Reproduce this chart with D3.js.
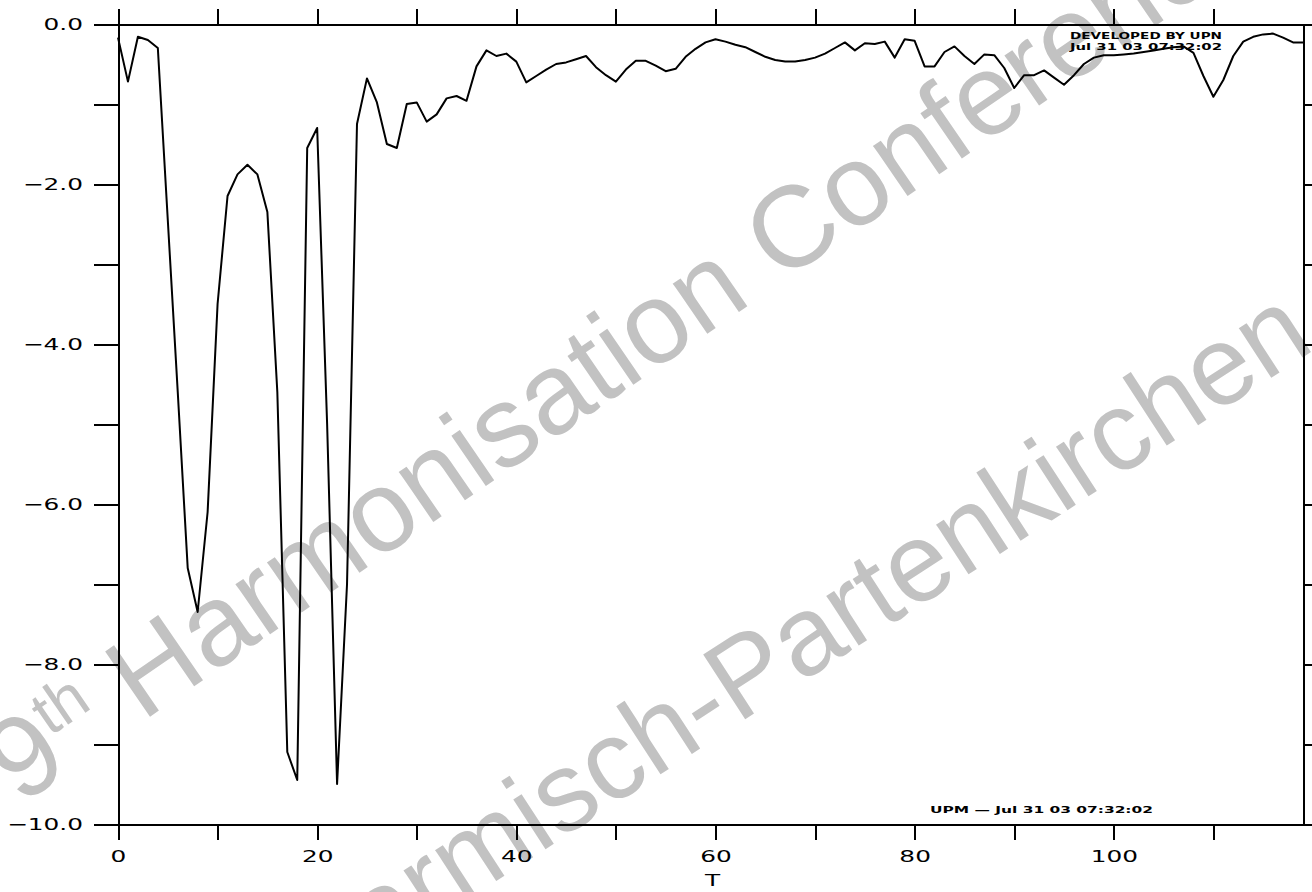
<!DOCTYPE html>
<html>
<head>
<meta charset="utf-8">
<script src="https://cdn.jsdelivr.net/npm/d3@7"></script>
<style>
  body { margin: 0; background: #fff; }
  svg { display: block; }
</style>
</head>
<body>
<svg id="chart" width="1312" height="892"></svg>
<script>
// Series sampled at T = 0, 1, 2, ... (index = T)
const seriesValues = [
  -0.17, -0.72, -0.16, -0.20, -0.30, -2.45, -4.60, -6.80, -7.35, -6.10,
  -3.50, -2.15, -1.88, -1.76, -1.88, -2.35, -4.60, -9.10, -9.45, -1.55,
  -1.30, -5.00, -9.50, -7.00, -1.25, -0.68, -0.98, -1.50, -1.55, -1.00,
  -0.98, -1.22, -1.13, -0.93, -0.90, -0.96, -0.53, -0.33, -0.40, -0.37,
  -0.47, -0.73, -0.65, -0.57, -0.50, -0.48, -0.44, -0.40, -0.54, -0.64,
  -0.72, -0.57, -0.46, -0.46, -0.52, -0.59, -0.56, -0.41, -0.31, -0.23,
  -0.19, -0.22, -0.26, -0.29, -0.35, -0.41, -0.45, -0.47, -0.47, -0.45,
  -0.42, -0.37, -0.30, -0.23, -0.33, -0.24, -0.25, -0.22, -0.42, -0.19,
  -0.21, -0.53, -0.53, -0.35, -0.28, -0.40, -0.50, -0.38, -0.39, -0.55,
  -0.80, -0.64, -0.64, -0.58, -0.67, -0.76, -0.64, -0.50, -0.42, -0.39,
  -0.39, -0.38, -0.37, -0.35, -0.33, -0.31, -0.29, -0.28, -0.36, -0.65,
  -0.91, -0.70, -0.40, -0.22, -0.16, -0.13, -0.12, -0.17, -0.23, -0.23
];

const xDomain = [0, 119];
const yDomain = [-10, 0];
const xTickValues = [0, 10, 20, 30, 40, 50, 60, 70, 80, 90, 100, 110];
const xLabelValues = [0, 20, 40, 60, 80, 100];
const yTickValues = [-10, -9, -8, -7, -6, -5, -4, -3, -2, -1, 0];
const yLabelValues = [0, -2, -4, -6, -8, -10];
const xTitle = "T";
const stampTopLines = ["DEVELOPED BY UPN", "Jul 31 03 07:32:02"];
const stampBottom = "UPM \u2014  Jul 31 03 07:32:02";
const watermarkMain = ["9", "th", " Harmonisation Conference"];
const watermarkPlace = "Garmisch-Partenkirchen";

const svg = d3.select("#chart");
const plotLeft = 118, plotRight = 1303, plotTop = 24, plotBottom = 824;

const x = d3.scaleLinear().domain(xDomain).range([plotLeft, plotRight]);
const y = d3.scaleLinear().domain(yDomain).range([plotBottom, plotTop]);

// Background watermark
const wm = svg.append("g")
  .attr("fill", "#c2c2c2")
  .attr("font-family", "'Liberation Sans', Arial, sans-serif")
  .attr("font-size", 115);

const wm1 = wm.append("text")
  .attr("transform", "translate(20,806) rotate(-34.5)");
wm1.append("tspan").text(watermarkMain[0]);
wm1.append("tspan").attr("font-size", 63).attr("dy", -40).text(watermarkMain[1]);
wm1.append("tspan").attr("dy", 40).text(watermarkMain[2]);

wm.append("text")
  .attr("font-size", 112)
  .attr("transform", "translate(1317,348) rotate(-33)")
  .attr("text-anchor", "end")
  .text(watermarkPlace);

// Axes
const labelScale = 1.55;
const fmtY = d3.format(".1f");

function styleAxis(g) {
  g.selectAll(".domain").attr("stroke", "#000").attr("stroke-width", 2)
    .attr("stroke-linecap", "square");
  g.selectAll(".tick line").attr("stroke", "#000").attr("stroke-width", 2);
  g.attr("shape-rendering", "crispEdges");
}

const axB = svg.append("g")
  .attr("transform", `translate(0,${plotBottom})`)
  .call(d3.axisBottom(x).tickValues(xTickValues).tickSize(16).tickSizeOuter(0)
    .tickFormat(d => xLabelValues.includes(d) ? String(d) : ""))
  .call(styleAxis);
axB.selectAll(".tick text")
  .attr("y", 32).attr("dy", "0.36em")
  .attr("transform", `scale(${labelScale},1)`)
  .attr("font-family", "'DejaVu Sans', sans-serif")
  .attr("font-size", 16).attr("fill", "#000");

svg.append("g")
  .attr("transform", `translate(0,${plotTop})`)
  .call(d3.axisTop(x).tickValues(xTickValues).tickSize(15).tickSizeOuter(0).tickFormat(""))
  .call(styleAxis);

const axL = svg.append("g")
  .attr("transform", `translate(${plotLeft},0)`)
  .call(d3.axisLeft(y).tickValues(yTickValues).tickSize(24).tickSizeOuter(0)
    .tickFormat(d => yLabelValues.includes(d) ? fmtY(d) : ""))
  .call(styleAxis);
axL.selectAll(".tick text")
  .attr("x", -35 / labelScale).attr("dy", "0.36em")
  .attr("transform", `scale(${labelScale},1)`)
  .attr("font-family", "'DejaVu Sans', sans-serif")
  .attr("font-size", 16).attr("fill", "#000");

svg.append("g")
  .attr("transform", `translate(${plotRight},0)`)
  .call(d3.axisRight(y).tickValues(yTickValues).tickSize(24).tickSizeOuter(0).tickFormat(""))
  .call(styleAxis);

// Axis title
svg.append("text")
  .attr("transform", `translate(${(plotLeft + plotRight) / 2 + 2},880) scale(${labelScale},1)`)
  .attr("text-anchor", "middle").attr("dy", "0.36em")
  .attr("font-family", "'DejaVu Sans', sans-serif").attr("font-size", 16)
  .text(xTitle);

// Series line
const line = d3.line().x((d, i) => x(i)).y(d => y(d));
svg.append("path")
  .datum(seriesValues)
  .attr("d", line)
  .attr("fill", "none")
  .attr("stroke", "#000")
  .attr("stroke-width", 2)
  .attr("stroke-linejoin", "round");

// Plot stamps
const stamp = svg.append("g")
  .attr("font-family", "'DejaVu Sans', sans-serif")
  .attr("font-weight", "bold").attr("font-size", 9).attr("fill", "#000");
stampTopLines.forEach((t, i) => {
  stamp.append("text")
    .attr("x", 1070).attr("y", 39 + i * 11)
    .attr("textLength", 152).attr("lengthAdjust", "spacingAndGlyphs")
    .text(t);
});
stamp.append("text")
  .attr("x", 930).attr("y", 813)
  .attr("textLength", 223).attr("lengthAdjust", "spacingAndGlyphs")
  .text(stampBottom);
</script>
</body>
</html>
